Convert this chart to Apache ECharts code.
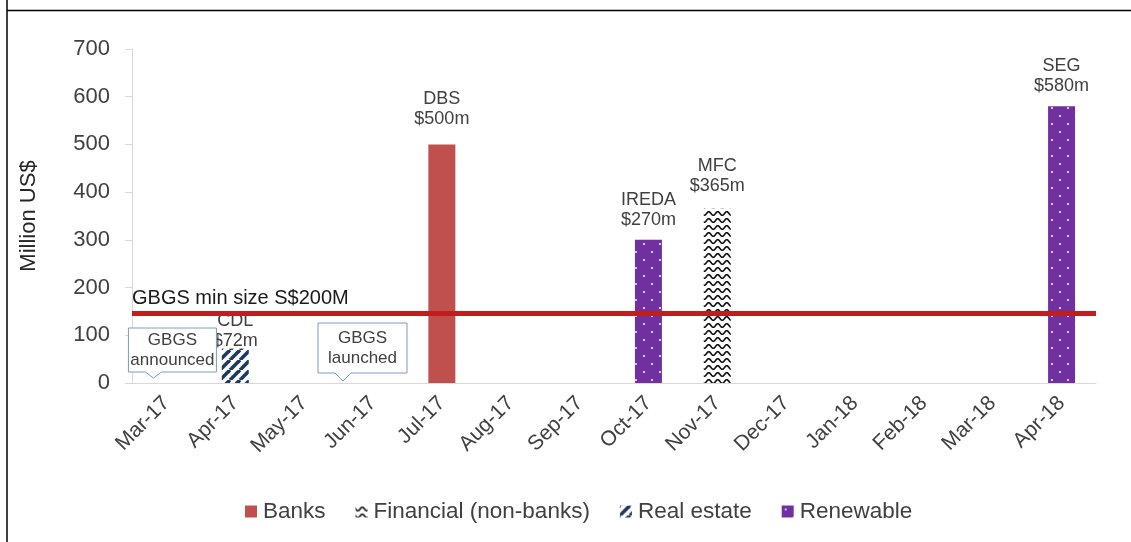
<!DOCTYPE html>
<html>
<head>
<meta charset="utf-8">
<script src="https://cdn.jsdelivr.net/npm/echarts@6/dist/echarts.min.js"></script>
<style>
html,body{margin:0;padding:0;background:#fff;}
#chart{width:1131px;height:542px;}
</style>
</head>
<body>
<div id="chart"></div>
<script>
// ---------- data ----------
const categories = ['Mar-17','Apr-17','May-17','Jun-17','Jul-17','Aug-17','Sep-17','Oct-17','Nov-17','Dec-17','Jan-18','Feb-18','Mar-18','Apr-18'];
const banks      = ['-','-','-','-',500,'-','-','-','-','-','-','-','-','-'];
const financial  = ['-','-','-','-','-','-','-','-',365,'-','-','-','-','-'];
const realEstate = ['-',72,'-','-','-','-','-','-','-','-','-','-','-','-'];
const renewable  = ['-','-','-','-','-','-','-',300,'-','-','-','-','-',580];
const issuerNames   = ['','CDL','','','DBS','','','IREDA','MFC','','','','','SEG'];
const issuerAmounts = ['','$72m','','','$500m','','','$270m','$365m','','','','','$580m'];
const seriesNames = ['Banks','Financial (non-banks)','Real estate','Renewable'];
const thresholdValue = 147;
const thresholdLabel = 'GBGS min size S$200M';
const yMin = 0, yMax = 700, yInterval = 100;
const yAxisName = 'Million US$';
const calloutTexts = ['GBGS\nannounced','GBGS\nlaunched'];
const calloutCategories = ['Mar-17','Jun-17'];

// ---------- patterns ----------
function makeCanvas(w,h){const c=document.createElement('canvas');c.width=w;c.height=h;return c;}
function dotPattern(){
  const c=makeCanvas(16,16),g=c.getContext('2d');
  g.fillStyle='#7030A0';g.fillRect(0,0,16,16);
  g.fillStyle='#f3e6f5';
  [[4,4],[12,12]].forEach(p=>{g.beginPath();g.arc(p[0],p[1],1.1,0,Math.PI*2);g.fill();});
  return c;
}
function stripePattern(){
  const c=makeCanvas(10,10),g=c.getContext('2d');
  g.fillStyle='#fff';g.fillRect(0,0,10,10);
  g.strokeStyle='#1F3A60';g.lineWidth=3.6;
  for(const x0 of [-10,0,10]){g.beginPath();g.moveTo(x0,10);g.lineTo(x0+10,0);g.stroke();}
  return c;
}
function wavePattern(){
  const w=9,h=7;
  const c=makeCanvas(w,h),g=c.getContext('2d');
  g.fillStyle='#fff';g.fillRect(0,0,w,h);
  g.strokeStyle='#111';g.lineWidth=1.6;g.beginPath();
  for(let x=-1;x<=w+1;x+=0.25){const y=3.5+1.8*Math.sin(2*Math.PI*x/w);if(x===-1)g.moveTo(x,y);else g.lineTo(x,y);}
  g.stroke();
  return c;
}
const colBanks='#C0504D';
const patFin={image:wavePattern(),repeat:'repeat'};
const patRE={image:stripePattern(),repeat:'repeat'};
const patRen={image:dotPattern(),repeat:'repeat'};

const FONT='"Liberation Sans", Arial, sans-serif';
const TXT='#404040';

function labelFormatter(p){
  const n=issuerNames[p.dataIndex];
  return n ? n+'\n'+issuerAmounts[p.dataIndex] : '';
}
function barSeries(name,data,color,dist){
  return {
    name:name,type:'bar',data:data,barWidth:27,barGap:'-100%',
    itemStyle:{color:color},
    label:{show:true,position:'top',distance:dist,formatter:labelFormatter,
      fontSize:18,lineHeight:20,color:TXT,fontFamily:FONT},
    emphasis:{disabled:true},
    animation:false
  };
}

const chart=echarts.init(document.getElementById('chart'),null,{renderer:'canvas'});
const option={
  animation:false,
  textStyle:{fontFamily:FONT},
  grid:{left:132,right:35,top:49,bottom:159,containLabel:false},
  legend:{
    bottom:14,left:240,itemWidth:12,itemHeight:12,itemGap:30,
    icon:'rect',
    textStyle:{fontSize:22.5,color:TXT,fontFamily:FONT,padding:[0,0,0,1]},
    data:seriesNames
  },
  xAxis:{
    type:'category',data:categories,
    axisLine:{lineStyle:{color:'#d9d9d9',width:1}},
    axisTick:{show:false},
    axisLabel:{rotate:45,fontSize:21,color:TXT,margin:17,fontFamily:FONT,interval:0},
    splitLine:{show:false}
  },
  yAxis:{
    type:'value',min:yMin,max:yMax,interval:yInterval,
    name:yAxisName,nameLocation:'middle',nameRotate:90,nameGap:92,
    nameTextStyle:{fontSize:22,color:'#262626',fontFamily:FONT},
    axisLine:{show:true,lineStyle:{color:'#d9d9d9'}},
    axisTick:{show:true,length:7,lineStyle:{color:'#d9d9d9'}},
    axisLabel:{fontSize:22,color:TXT,margin:22,fontFamily:FONT},
    splitLine:{show:false}
  },
  series:[
    Object.assign(barSeries(seriesNames[0],banks,colBanks,15),{
      markLine:{
        silent:true,symbol:['none','none'],
        lineStyle:{color:'#BE1E1E',width:5,type:'solid'},
        label:{show:true,position:'insideStartTop',formatter:thresholdLabel,
          fontSize:20,color:'#1a1a1a',fontFamily:FONT,distance:[0,4]},
        data:[{yAxis:thresholdValue}],
        animation:false
      }
    }),
    barSeries(seriesNames[1],financial,patFin,13),
    barSeries(seriesNames[2],realEstate,patRE,-2),
    barSeries(seriesNames[3],renewable,patRen,10)
  ]
};
chart.setOption(option);

// ---------- callouts & frame ----------
const calloutGeom=[
  {left:-38,right:50,top:-55,bottom:-11,tip:-13,tipY:-5},
  {left:-55,right:34,top:-60,bottom:-10,tip:-30,tipY:-2}
];
const graphics=[
  {type:'line',shape:{x1:7,y1:0,x2:7,y2:542},style:{stroke:'#000',lineWidth:1.5},z:100},
  {type:'line',shape:{x1:7,y1:10.5,x2:1131,y2:10.5},style:{stroke:'#000',lineWidth:1.5},z:100}
];
calloutTexts.forEach((t,i)=>{
  const cx=chart.convertToPixel({xAxisIndex:0},calloutCategories[i]);
  const y0=chart.convertToPixel({yAxisIndex:0},0);
  const g=calloutGeom[i];
  const L=cx+g.left,R=cx+g.right,T=y0+g.top,B=y0+g.bottom,tx=cx+g.tip;
  graphics.push({type:'polygon',shape:{points:[[L,T],[R,T],[R,B],[tx+8,B],[tx,y0+g.tipY],[tx-8,B],[L,B]]},
    style:{fill:'#fff',stroke:'#7F98C4',lineWidth:1},z:50});
  graphics.push({type:'text',x:(L+R)/2,y:(T+B)/2,
    style:{text:t,fill:TXT,font:'17px '+FONT,align:'center',verticalAlign:'middle',lineHeight:20},z:51});
});
chart.setOption({graphic:graphics});
</script>
</body>
</html>
